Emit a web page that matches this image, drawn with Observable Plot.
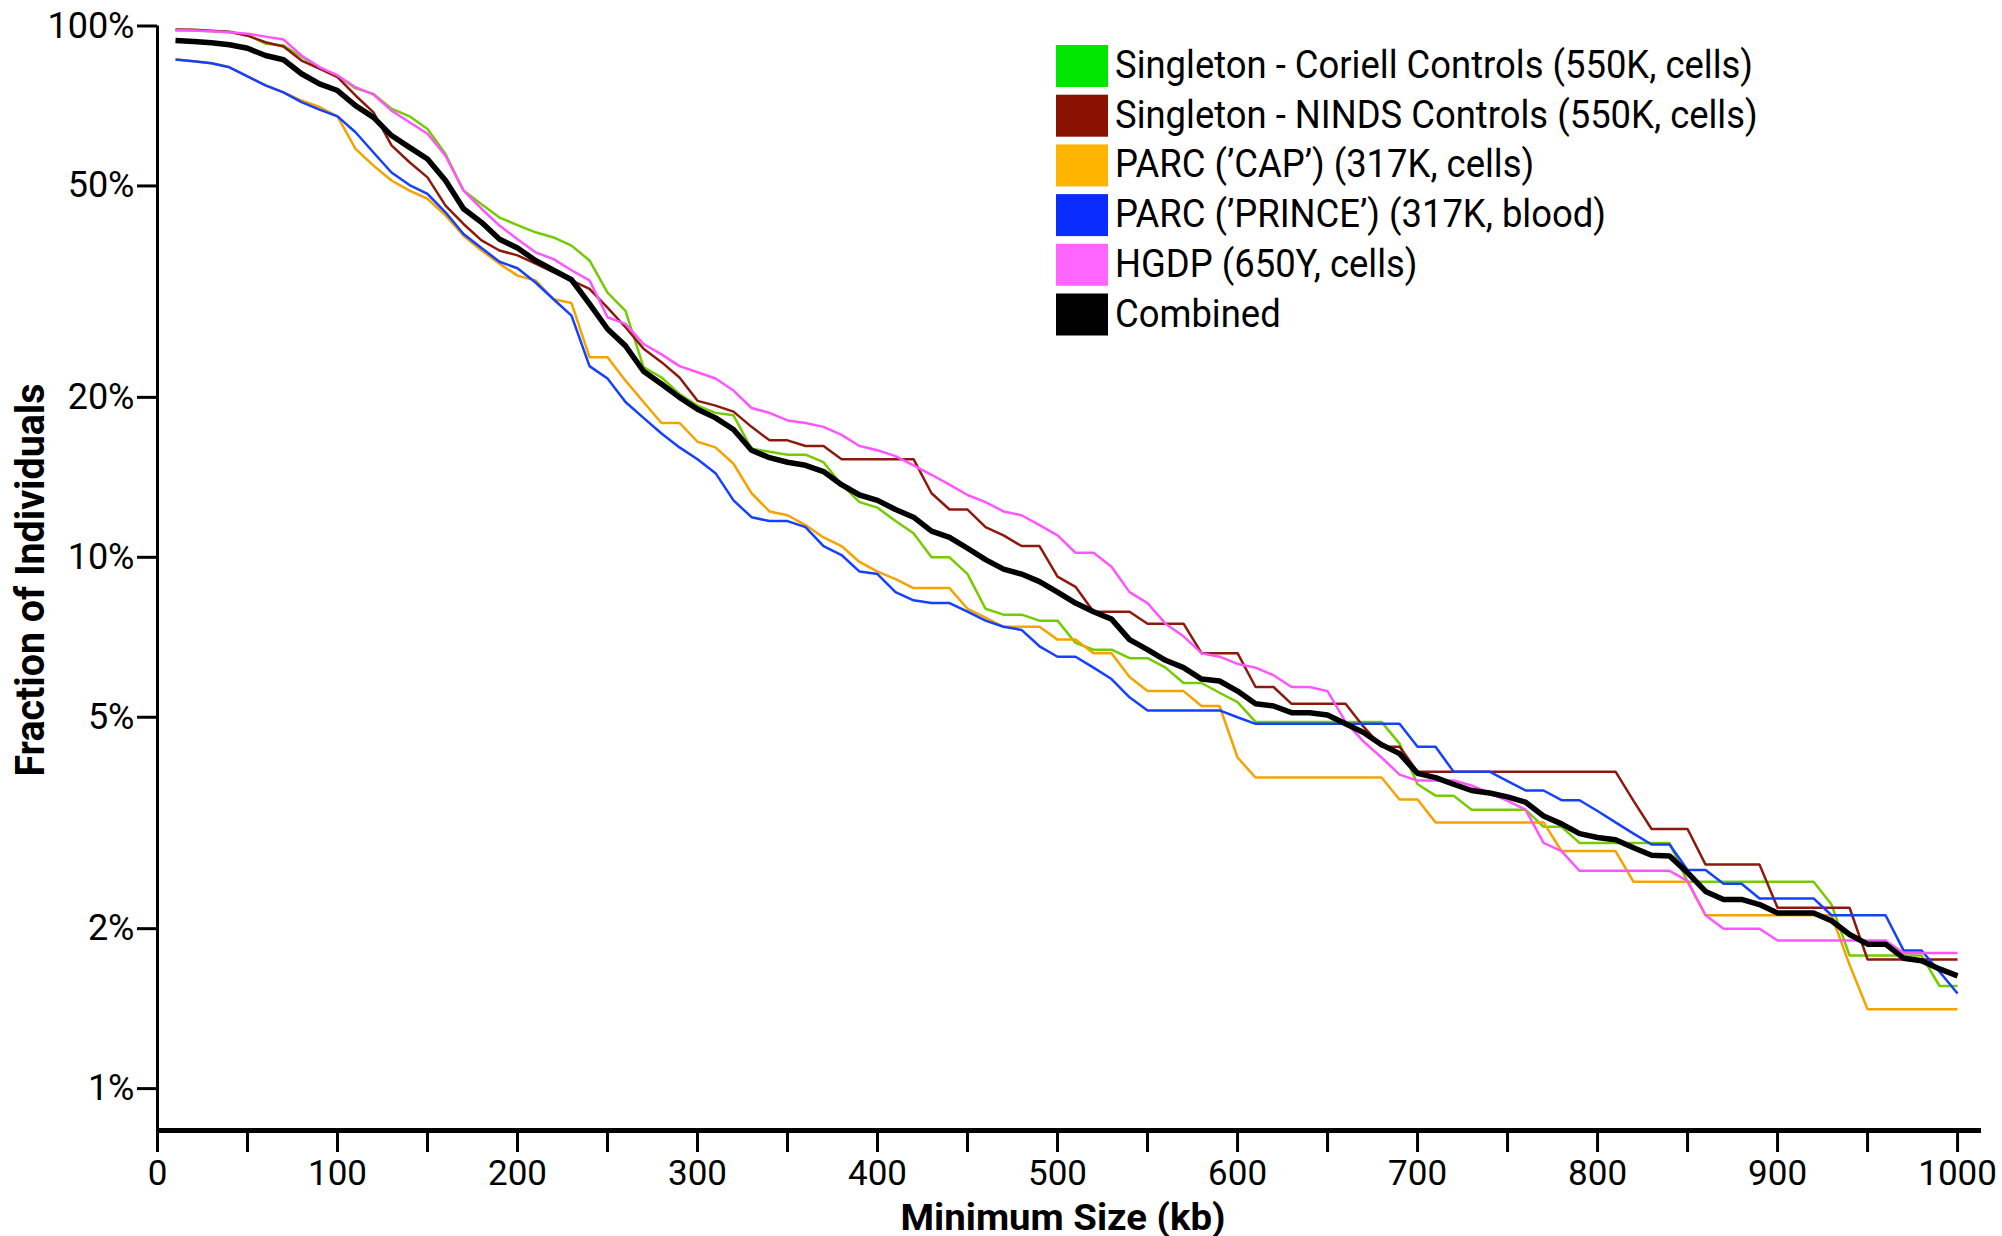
<!DOCTYPE html>
<html>
<head>
<meta charset="utf-8">
<script src="https://cdn.jsdelivr.net/npm/d3@7"></script>
<script src="https://cdn.jsdelivr.net/npm/@observablehq/plot@0.6"></script>
<style>
  html, body { margin: 0; padding: 0; background: #fff; }
  #chart { width: 2002px; height: 1236px; }
</style>
</head>
<body>
<div id="chart"></div>
<script>
// Minimum size thresholds (kb) at which each curve is sampled
const sizesKb = d3.range(10, 1001, 10);

// Fraction of individuals (%) with at least one event >= size
const coriell = [
  98.2, 98.1, 97.8, 97.3, 96.2, 92.6, 91.9, 87.5, 83.3, 80.7,
  76.3, 74.5, 69.9, 67.6, 64.0, 57.4, 49.0, 46.2, 43.6, 42.2,
  40.9, 40.0, 38.6, 36.2, 31.5, 29.1, 22.8, 21.8, 20.3, 19.3,
  18.7, 18.5, 16.0, 15.8, 15.6, 15.6, 15.1, 13.7, 12.7, 12.4,
  11.7, 11.1, 10.0, 10.0, 9.3, 8.0, 7.8, 7.8, 7.6, 7.6,
  6.9, 6.7, 6.7, 6.46, 6.46, 6.2, 5.8, 5.8, 5.56, 5.34,
  4.9, 4.9, 4.9, 4.9, 4.9, 4.9, 4.9, 4.9, 4.46, 3.74,
  3.56, 3.56, 3.35, 3.35, 3.35, 3.35, 3.11, 3.11, 2.9, 2.9,
  2.9, 2.9, 2.9, 2.9, 2.45, 2.45, 2.45, 2.45, 2.45, 2.45,
  2.45, 2.45, 2.22, 1.78, 1.78, 1.78, 1.78, 1.78, 1.56, 1.56
];
const ninds = [
  98.5, 98.4, 98.0, 97.5, 95.9, 93.2, 91.5, 86.1, 83.1, 80.1,
  74.0, 68.8, 59.6, 55.4, 51.9, 45.9, 42.4, 39.5, 37.8, 37.0,
  35.7, 34.4, 33.2, 32.0, 29.5, 27.1, 24.7, 23.3, 21.8, 19.7,
  19.3, 18.8, 17.6, 16.6, 16.6, 16.2, 16.2, 15.3, 15.3, 15.3,
  15.3, 15.3, 13.2, 12.3, 12.3, 11.4, 11.0, 10.5, 10.5, 9.2,
  8.8, 7.9, 7.9, 7.9, 7.5, 7.5, 7.5, 6.6, 6.6, 6.6,
  5.7, 5.7, 5.3, 5.3, 5.3, 5.3, 4.8, 4.4, 4.4, 3.95,
  3.95, 3.95, 3.95, 3.95, 3.95, 3.95, 3.95, 3.95, 3.95, 3.95,
  3.95, 3.48, 3.08, 3.08, 3.08, 2.64, 2.64, 2.64, 2.64, 2.19,
  2.19, 2.19, 2.19, 2.19, 1.75, 1.75, 1.75, 1.75, 1.75, 1.75
];
const cap = [
  86.5, 85.8, 85.1, 83.6, 80.4, 77.3, 75.0, 72.4, 70.4, 67.6,
  58.7, 54.6, 51.2, 49.0, 47.3, 44.0, 40.3, 37.8, 35.7, 33.9,
  33.2, 30.6, 30.1, 23.8, 23.8, 21.5, 19.6, 17.9, 17.9, 16.5,
  16.1, 15.0, 13.2, 12.2, 12.0, 11.5, 10.9, 10.5, 9.8, 9.4,
  9.1, 8.75, 8.75, 8.75, 8.0, 7.7, 7.4, 7.4, 7.4, 7.0,
  7.0, 6.6, 6.6, 5.95, 5.6, 5.6, 5.6, 5.25, 5.25, 4.2,
  3.85, 3.85, 3.85, 3.85, 3.85, 3.85, 3.85, 3.85, 3.5, 3.5,
  3.17, 3.17, 3.17, 3.17, 3.17, 3.17, 3.17, 2.8, 2.8, 2.8,
  2.8, 2.45, 2.45, 2.45, 2.45, 2.12, 2.12, 2.12, 2.12, 2.12,
  2.12, 2.12, 2.12, 1.71, 1.41, 1.41, 1.41, 1.41, 1.41, 1.41
];
const prince = [
  86.5, 85.8, 85.1, 83.6, 80.4, 77.3, 75.0, 71.9, 69.6, 67.6,
  63.1, 57.8, 53.0, 50.2, 48.3, 44.6, 40.6, 38.2, 36.0, 35.0,
  32.9, 30.6, 28.5, 22.9, 21.7, 19.6, 18.3, 17.1, 16.1, 15.3,
  14.4, 12.8, 11.9, 11.7, 11.7, 11.4, 10.5, 10.1, 9.4, 9.3,
  8.6, 8.3, 8.2, 8.2, 7.9, 7.6, 7.4, 7.3, 6.8, 6.5,
  6.5, 6.2, 5.9, 5.45, 5.15, 5.15, 5.15, 5.15, 5.15, 5.0,
  4.86, 4.86, 4.86, 4.86, 4.86, 4.86, 4.86, 4.86, 4.86, 4.4,
  4.4, 3.95, 3.95, 3.95, 3.79, 3.64, 3.64, 3.49, 3.49, 3.33,
  3.17, 3.02, 2.88, 2.88, 2.58, 2.58, 2.43, 2.43, 2.28, 2.28,
  2.28, 2.28, 2.12, 2.12, 2.12, 2.12, 1.82, 1.82, 1.66, 1.51
];
const hgdp = [
  98.2, 98.1, 97.8, 97.3, 96.7, 95.5, 94.3, 88.0, 83.7, 80.7,
  76.7, 74.3, 69.3, 65.9, 62.7, 57.0, 49.0, 45.3, 42.1, 39.7,
  37.5, 36.4, 34.7, 33.2, 28.3, 27.5, 25.2, 24.1, 22.9, 22.3,
  21.7, 20.6, 19.1, 18.7, 18.1, 17.9, 17.6, 17.0, 16.2, 15.9,
  15.5, 14.9, 14.3, 13.7, 13.1, 12.7, 12.2, 12.0, 11.5, 11.0,
  10.2, 10.2, 9.6, 8.6, 8.2, 7.5, 7.1, 6.6, 6.5, 6.3,
  6.2, 6.0, 5.7, 5.7, 5.6, 4.9, 4.5, 4.2, 3.9, 3.8,
  3.8, 3.8, 3.72, 3.6, 3.48, 3.35, 2.9, 2.8, 2.57, 2.57,
  2.57, 2.57, 2.57, 2.57, 2.46, 2.12, 2.0, 2.0, 2.0, 1.9,
  1.9, 1.9, 1.9, 1.9, 1.9, 1.9, 1.8, 1.8, 1.8, 1.8
];
const combined = [
  93.9, 93.5, 93.0, 92.2, 90.8, 88.0, 86.4, 81.3, 77.8, 75.6,
  70.8, 67.3, 62.2, 59.1, 56.2, 51.2, 45.3, 42.7, 39.7, 38.2,
  36.2, 34.7, 33.3, 30.0, 26.9, 25.0, 22.4, 21.2, 20.0, 19.0,
  18.3, 17.4, 15.9, 15.4, 15.1, 14.9, 14.5, 13.7, 13.1, 12.8,
  12.3, 11.9, 11.2, 10.9, 10.4, 9.9, 9.5, 9.3, 9.0, 8.6,
  8.2, 7.9, 7.65, 7.0, 6.7, 6.4, 6.2, 5.9, 5.85, 5.6,
  5.3, 5.25, 5.1, 5.1, 5.05, 4.86, 4.68, 4.44, 4.27, 3.92,
  3.85, 3.74, 3.64, 3.6, 3.54, 3.46, 3.26, 3.15, 3.02, 2.97,
  2.94, 2.84, 2.75, 2.74, 2.55, 2.35, 2.27, 2.27, 2.22, 2.14,
  2.14, 2.14, 2.07, 1.95, 1.87, 1.87, 1.76, 1.74, 1.68, 1.63
];

const seriesNames = [
  "Singleton - Coriell Controls (550K, cells)",
  "Singleton - NINDS Controls (550K, cells)",
  "PARC (\u2019CAP\u2019) (317K, cells)",
  "PARC (\u2019PRINCE\u2019) (317K, blood)",
  "HGDP (650Y, cells)",
  "Combined"
];
const seriesValues = [coriell, ninds, cap, prince, hgdp, combined];
const lineColors   = ["#74cc00", "#8c1a0c", "#f5a300", "#1440ff", "#ff55ff", "#000000"];
const swatchColors = ["#00e600", "#8a1200", "#ffb400", "#0a2dff", "#ff66ff", "#000000"];
const lineWidths   = [2.5, 2.5, 2.5, 2.5, 2.5, 5.5];

const yTicks = [1, 2, 5, 10, 20, 50, 100];
const xTicks = d3.range(0, 1001, 50);
const xTitle = "Minimum Size (kb)";
const yTitle = "Fraction of Individuals";

// build one table per series
const table = seriesNames.map((name, k) =>
  sizesKb.map((kb, i) => ({series: name, kb, pct: seriesValues[k][i]}))
);

const yMin = 0.834;
const chart = Plot.plot({
  width: 2002,
  height: 1236,
  marginLeft: 157,
  marginRight: 21,
  marginTop: 25.5,
  marginBottom: 106,
  style: {fontFamily: "Roboto, 'Liberation Sans', sans-serif", fontSize: "36px", background: "#fff", color: "#000", overflow: "visible"},
  x: {domain: [0, 1013.3]},
  y: {type: "log", domain: [yMin, 100]},
  marks: [
    ...table.map((rows, k) => Plot.line(rows, {
      x: "kb", y: "pct", stroke: lineColors[k], strokeWidth: lineWidths[k],
      strokeLinejoin: "miter", strokeLinecap: "butt"
    })),
    Plot.ruleX([0], {strokeWidth: 3, stroke: "#000"}),
    Plot.ruleY([yMin], {strokeWidth: 5, stroke: "#000"}),
    Plot.axisY({ticks: yTicks, tickSize: 20, tickPadding: 3, tickFormat: d => d + "%",
      fontSize: 36, strokeWidth: 3, label: null}),
    Plot.axisX({ticks: xTicks, tickSize: 22, tickPadding: 8,
      tickFormat: d => (d % 100 === 0 ? String(d) : ""),
      fontSize: 35, strokeWidth: 3, label: null})
  ]
});

document.getElementById("chart").appendChild(chart);
const svg = d3.select(chart);

// axis titles
const yT = svg.append("text")
  .attr("transform", "translate(44,580) rotate(-90)")
  .attr("text-anchor", "middle")
  .attr("font-family", "Roboto, sans-serif")
  .attr("font-weight", "bold")
  .attr("font-size", 40)
  .attr("fill", "#000")
  .text(yTitle);
const xT = svg.append("text")
  .attr("x", 1063).attr("y", 1230)
  .attr("text-anchor", "middle")
  .attr("font-family", "Roboto, sans-serif")
  .attr("font-weight", "bold")
  .attr("font-size", 37)
  .attr("fill", "#000")
  .text(xTitle);
yT.attr("textLength", 393).attr("lengthAdjust", "spacingAndGlyphs");
xT.attr("textLength", 325).attr("lengthAdjust", "spacingAndGlyphs");

// legend
const legendX = 1056, legendTop = 45, legendStep = 49.7;
const lg = svg.append("g")
  .attr("font-family", "Roboto, sans-serif")
  .attr("font-size", 38)
  .attr("text-anchor", "start")
  .attr("fill", "#000");
seriesNames.forEach((name, k) => {
  const y0 = legendTop + k * legendStep;
  lg.append("rect").attr("x", legendX).attr("y", y0)
    .attr("width", 52).attr("height", 42).attr("fill", swatchColors[k]);
  lg.append("text").attr("x", legendX + 59).attr("y", y0 + 33)
    .attr("text-anchor", "start").text(name);
});
const lt = lg.selectAll("text").nodes();
const ratio = 638 / lt[0].getComputedTextLength();
lt.forEach(t => {
  const w = t.getComputedTextLength();
  t.setAttribute("textLength", (w * ratio).toFixed(1));
  t.setAttribute("lengthAdjust", "spacingAndGlyphs");
});
</script>
</body>
</html>
